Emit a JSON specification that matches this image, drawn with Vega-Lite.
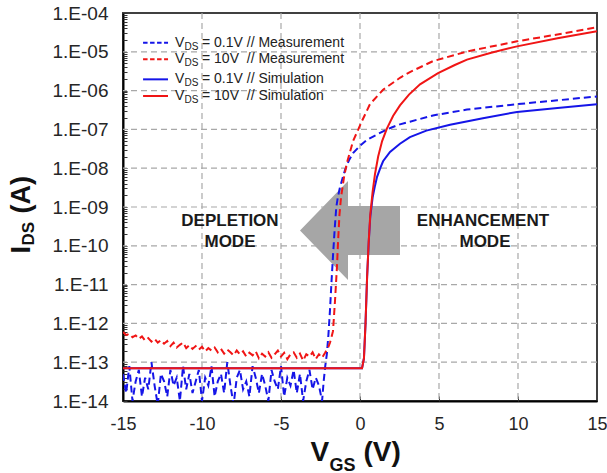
{
"$schema":"https://vega.github.io/schema/vega-lite/v6.json",
"width":474,"height":388,
"autosize":{"type":"none"},
"padding":{"left":123,"top":13,"right":10,"bottom":72},
"background":"white",
"config":{"font":"Liberation Sans","view":{"stroke":"#404040","strokeWidth":2}},
"datasets":{"curves":[
{"V":-15,"I":5.0e-14,"series":"meas01"},{"V":-14.8,"I":1.6e-14,"series":"meas01"},{"V":-14.6,"I":7.9e-14,"series":"meas01"},{"V":-14.4,"I":1.0e-14,"series":"meas01"},{"V":-14.2,"I":3.2e-14,"series":"meas01"},{"V":-14,"I":6.3e-14,"series":"meas01"},{"V":-13.8,"I":1.3e-14,"series":"meas01"},{"V":-13.6,"I":4.0e-14,"series":"meas01"},{"V":-13.4,"I":2.0e-14,"series":"meas01"},{"V":-13.2,"I":1.0e-13,"series":"meas01"},{"V":-13,"I":2.5e-14,"series":"meas01"},{"V":-12.8,"I":7.9e-15,"series":"meas01"},{"V":-12.6,"I":5.0e-14,"series":"meas01"},{"V":-12.4,"I":3.2e-14,"series":"meas01"},{"V":-12.2,"I":1.3e-14,"series":"meas01"},{"V":-12,"I":6.3e-14,"series":"meas01"},{"V":-11.8,"I":2.5e-14,"series":"meas01"},{"V":-11.6,"I":4.0e-14,"series":"meas01"},{"V":-11.4,"I":1.0e-14,"series":"meas01"},{"V":-11.2,"I":7.9e-14,"series":"meas01"},{"V":-11,"I":2.0e-14,"series":"meas01"},{"V":-10.8,"I":5.0e-14,"series":"meas01"},{"V":-10.6,"I":1.6e-14,"series":"meas01"},{"V":-10.4,"I":3.2e-14,"series":"meas01"},{"V":-10.2,"I":6.3e-14,"series":"meas01"},{"V":-10,"I":1.0e-14,"series":"meas01"},{"V":-9.8,"I":4.0e-14,"series":"meas01"},{"V":-9.6,"I":2.5e-14,"series":"meas01"},{"V":-9.4,"I":7.9e-14,"series":"meas01"},{"V":-9.2,"I":1.3e-14,"series":"meas01"},{"V":-9,"I":3.2e-14,"series":"meas01"},{"V":-8.8,"I":5.0e-14,"series":"meas01"},{"V":-8.6,"I":1.6e-14,"series":"meas01"},{"V":-8.4,"I":1.0e-13,"series":"meas01"},{"V":-8.2,"I":2.5e-14,"series":"meas01"},{"V":-8,"I":7.9e-15,"series":"meas01"},{"V":-7.8,"I":4.0e-14,"series":"meas01"},{"V":-7.6,"I":6.3e-14,"series":"meas01"},{"V":-7.4,"I":2.0e-14,"series":"meas01"},{"V":-7.2,"I":3.2e-14,"series":"meas01"},{"V":-7,"I":1.3e-14,"series":"meas01"},{"V":-6.8,"I":7.9e-14,"series":"meas01"},{"V":-6.6,"I":4.0e-14,"series":"meas01"},{"V":-6.4,"I":1.6e-14,"series":"meas01"},{"V":-6.2,"I":5.0e-14,"series":"meas01"},{"V":-6,"I":2.5e-14,"series":"meas01"},{"V":-5.8,"I":1.0e-14,"series":"meas01"},{"V":-5.6,"I":6.3e-14,"series":"meas01"},{"V":-5.4,"I":3.2e-14,"series":"meas01"},{"V":-5.2,"I":2.0e-14,"series":"meas01"},{"V":-5,"I":7.9e-14,"series":"meas01"},{"V":-4.8,"I":1.3e-14,"series":"meas01"},{"V":-4.6,"I":4.0e-14,"series":"meas01"},{"V":-4.4,"I":2.5e-14,"series":"meas01"},{"V":-4.2,"I":6.3e-14,"series":"meas01"},{"V":-4,"I":1.6e-14,"series":"meas01"},{"V":-3.8,"I":5.0e-14,"series":"meas01"},{"V":-3.6,"I":1.0e-14,"series":"meas01"},{"V":-3.4,"I":3.2e-14,"series":"meas01"},{"V":-3.2,"I":6.3e-14,"series":"meas01"},{"V":-3,"I":2.0e-14,"series":"meas01"},{"V":-2.8,"I":4.0e-14,"series":"meas01"},{"V":-2.6,"I":2.5e-14,"series":"meas01"},{"V":-2.4,"I":1.0e-14,"series":"meas01"},
{"V":-2.3,"I":3.2e-14,"series":"meas01"},{"V":-2.2,"I":7.9e-14,"series":"meas01"},{"V":-2.1,"I":1.6e-13,"series":"meas01"},{"V":-2.0,"I":5.0e-13,"series":"meas01"},{"V":-1.9,"I":2.2e-12,"series":"meas01"},{"V":-1.8,"I":1.26e-11,"series":"meas01"},{"V":-1.7,"I":6.3e-11,"series":"meas01"},{"V":-1.6,"I":2.8e-10,"series":"meas01"},{"V":-1.5,"I":1.0e-9,"series":"meas01"},{"V":-1.4,"I":1.8e-9,"series":"meas01"},{"V":-1.27,"I":3.2e-9,"series":"meas01"},{"V":-1.1,"I":5.6e-9,"series":"meas01"},{"V":-0.95,"I":8.9e-9,"series":"meas01"},{"V":-0.7,"I":1.6e-8,"series":"meas01"},{"V":-0.44,"I":2.45e-8,"series":"meas01"},{"V":0,"I":3.8e-8,"series":"meas01"},{"V":0.44,"I":5.4e-8,"series":"meas01"},{"V":1.0,"I":7.1e-8,"series":"meas01"},{"V":1.46,"I":8.9e-8,"series":"meas01"},{"V":2.0,"I":1.12e-7,"series":"meas01"},{"V":2.53,"I":1.35e-7,"series":"meas01"},{"V":3.16,"I":1.58e-7,"series":"meas01"},{"V":4.62,"I":2.29e-7,"series":"meas01"},{"V":6.77,"I":3.24e-7,"series":"meas01"},{"V":9.94,"I":4.47e-7,"series":"meas01"},{"V":12.5,"I":5.62e-7,"series":"meas01"},{"V":15,"I":7.08e-7,"series":"meas01"},
{"V":-15,"I":6.0e-13,"series":"meas10"},{"V":-14.8,"I":5.0e-13,"series":"meas10"},{"V":-14.6,"I":5.4e-13,"series":"meas10"},{"V":-14.4,"I":4.4e-13,"series":"meas10"},{"V":-14.2,"I":4.9e-13,"series":"meas10"},{"V":-14,"I":4.0e-13,"series":"meas10"},{"V":-13.8,"I":4.6e-13,"series":"meas10"},{"V":-13.6,"I":3.6e-13,"series":"meas10"},{"V":-13.4,"I":4.2e-13,"series":"meas10"},{"V":-13.2,"I":3.4e-13,"series":"meas10"},{"V":-13,"I":4.0e-13,"series":"meas10"},{"V":-12.8,"I":3.2e-13,"series":"meas10"},{"V":-12.6,"I":3.7e-13,"series":"meas10"},{"V":-12.4,"I":3.0e-13,"series":"meas10"},{"V":-12.2,"I":3.5e-13,"series":"meas10"},{"V":-12,"I":2.6e-13,"series":"meas10"},{"V":-11.8,"I":3.2e-13,"series":"meas10"},{"V":-11.6,"I":2.4e-13,"series":"meas10"},{"V":-11.4,"I":2.8e-13,"series":"meas10"},{"V":-11.2,"I":3.2e-13,"series":"meas10"},{"V":-11,"I":2.3e-13,"series":"meas10"},{"V":-10.8,"I":2.75e-13,"series":"meas10"},{"V":-10.6,"I":2.2e-13,"series":"meas10"},{"V":-10.4,"I":2.6e-13,"series":"meas10"},{"V":-10.2,"I":2.1e-13,"series":"meas10"},{"V":-10,"I":2.5e-13,"series":"meas10"},{"V":-9.8,"I":1.9e-13,"series":"meas10"},{"V":-9.6,"I":2.3e-13,"series":"meas10"},{"V":-9.4,"I":2.0e-13,"series":"meas10"},{"V":-9.2,"I":2.4e-13,"series":"meas10"},{"V":-9,"I":1.8e-13,"series":"meas10"},{"V":-8.8,"I":2.2e-13,"series":"meas10"},{"V":-8.6,"I":1.66e-13,"series":"meas10"},{"V":-8.4,"I":2.1e-13,"series":"meas10"},{"V":-8.2,"I":1.8e-13,"series":"meas10"},{"V":-8,"I":1.5e-13,"series":"meas10"},{"V":-7.8,"I":2.0e-13,"series":"meas10"},{"V":-7.6,"I":1.6e-13,"series":"meas10"},{"V":-7.4,"I":1.9e-13,"series":"meas10"},{"V":-7.2,"I":1.4e-13,"series":"meas10"},{"V":-7,"I":1.75e-13,"series":"meas10"},{"V":-6.8,"I":1.5e-13,"series":"meas10"},{"V":-6.6,"I":1.9e-13,"series":"meas10"},{"V":-6.4,"I":1.26e-13,"series":"meas10"},{"V":-6.2,"I":1.66e-13,"series":"meas10"},{"V":-6,"I":1.4e-13,"series":"meas10"},{"V":-5.8,"I":1.8e-13,"series":"meas10"},{"V":-5.6,"I":1.3e-13,"series":"meas10"},{"V":-5.4,"I":1.6e-13,"series":"meas10"},{"V":-5.2,"I":2.0e-13,"series":"meas10"},{"V":-5,"I":1.4e-13,"series":"meas10"},{"V":-4.8,"I":1.75e-13,"series":"meas10"},{"V":-4.6,"I":1.2e-13,"series":"meas10"},{"V":-4.4,"I":1.6e-13,"series":"meas10"},{"V":-4.2,"I":1.8e-13,"series":"meas10"},{"V":-4,"I":1.3e-13,"series":"meas10"},{"V":-3.8,"I":1.66e-13,"series":"meas10"},{"V":-3.6,"I":1.1e-13,"series":"meas10"},{"V":-3.4,"I":1.6e-13,"series":"meas10"},{"V":-3.2,"I":1.4e-13,"series":"meas10"},{"V":-3,"I":1.8e-13,"series":"meas10"},{"V":-2.8,"I":1.2e-13,"series":"meas10"},{"V":-2.6,"I":1.6e-13,"series":"meas10"},{"V":-2.4,"I":1.3e-13,"series":"meas10"},
{"V":-2.2,"I":1.78e-13,"series":"meas10"},{"V":-2.0,"I":2.5e-13,"series":"meas10"},{"V":-1.9,"I":3.2e-13,"series":"meas10"},{"V":-1.8,"I":4.5e-13,"series":"meas10"},{"V":-1.71,"I":6.3e-13,"series":"meas10"},{"V":-1.58,"I":3.9e-12,"series":"meas10"},{"V":-1.46,"I":2.8e-11,"series":"meas10"},{"V":-1.39,"I":1.26e-10,"series":"meas10"},{"V":-1.3,"I":6.3e-10,"series":"meas10"},{"V":-1.2,"I":1.78e-9,"series":"meas10"},{"V":-1.0,"I":6.3e-9,"series":"meas10"},{"V":-0.82,"I":1.41e-8,"series":"meas10"},{"V":-0.44,"I":5.0e-8,"series":"meas10"},{"V":0.13,"I":1.66e-7,"series":"meas10"},{"V":0.63,"I":4.47e-7,"series":"meas10"},{"V":1.46,"I":1.05e-6,"series":"meas10"},{"V":2.53,"I":2.14e-6,"series":"meas10"},{"V":3.16,"I":3.0e-6,"series":"meas10"},{"V":4.62,"I":5.75e-6,"series":"meas10"},{"V":6.77,"I":1.02e-5,"series":"meas10"},{"V":9.94,"I":1.86e-5,"series":"meas10"},{"V":12.5,"I":2.8e-5,"series":"meas10"},{"V":15,"I":4.27e-5,"series":"meas10"},
{"V":-15,"I":7.0e-14,"series":"sim01"},{"V":0.13,"I":7.0e-14,"series":"sim01"},{"V":0.25,"I":1.26e-13,"series":"sim01"},{"V":0.35,"I":1.0e-12,"series":"sim01"},{"V":0.45,"I":1.58e-11,"series":"sim01"},{"V":0.55,"I":1.2e-10,"series":"sim01"},{"V":0.65,"I":5.6e-10,"series":"sim01"},{"V":0.8,"I":1.78e-9,"series":"sim01"},{"V":0.95,"I":3.55e-9,"series":"sim01"},{"V":1.08,"I":6.0e-9,"series":"sim01"},{"V":1.3,"I":1.05e-8,"series":"sim01"},{"V":1.46,"I":1.51e-8,"series":"sim01"},{"V":1.9,"I":2.63e-8,"series":"sim01"},{"V":2.53,"I":4.27e-8,"series":"sim01"},{"V":3.16,"I":6.3e-8,"series":"sim01"},{"V":4.2,"I":9.3e-8,"series":"sim01"},{"V":5.7,"I":1.32e-7,"series":"sim01"},{"V":7.78,"I":1.95e-7,"series":"sim01"},{"V":9.94,"I":2.82e-7,"series":"sim01"},{"V":12.5,"I":3.55e-7,"series":"sim01"},{"V":15,"I":4.47e-7,"series":"sim01"},
{"V":-15,"I":7.0e-14,"series":"sim10"},{"V":0.13,"I":7.0e-14,"series":"sim10"},{"V":0.25,"I":1.26e-13,"series":"sim10"},{"V":0.35,"I":1.0e-12,"series":"sim10"},{"V":0.45,"I":1.58e-11,"series":"sim10"},{"V":0.55,"I":1.26e-10,"series":"sim10"},{"V":0.65,"I":6.3e-10,"series":"sim10"},{"V":0.8,"I":2.5e-9,"series":"sim10"},{"V":0.95,"I":7.1e-9,"series":"sim10"},{"V":1.15,"I":2.0e-8,"series":"sim10"},{"V":1.4,"I":5.0e-8,"series":"sim10"},{"V":1.7,"I":1.05e-7,"series":"sim10"},{"V":2.1,"I":2.24e-7,"series":"sim10"},{"V":2.53,"I":4.17e-7,"series":"sim10"},{"V":3.1,"I":7.9e-7,"series":"sim10"},{"V":3.8,"I":1.45e-6,"series":"sim10"},{"V":4.94,"I":2.82e-6,"series":"sim10"},{"V":6.0,"I":4.57e-6,"series":"sim10"},{"V":6.77,"I":6.3e-6,"series":"sim10"},{"V":8.3,"I":9.5e-6,"series":"sim10"},{"V":9.94,"I":1.38e-5,"series":"sim10"},{"V":12.5,"I":2.24e-5,"series":"sim10"},{"V":15,"I":3.39e-5,"series":"sim10"}
]},
"resolve":{"axis":{"x":"independent","y":"independent"}},
"layer":[
{"data":{"values":[{}]},"mark":{"type":"rule","color":"#a8a8a8","strokeWidth":1.2,"strokeDash":[6,4]},"encoding":{"x":{"datum":-10,"type":"quantitative","axis":null}}},
{"data":{"values":[{}]},"mark":{"type":"rule","color":"#a8a8a8","strokeWidth":1.2,"strokeDash":[6,4]},"encoding":{"x":{"datum":-5,"type":"quantitative","axis":null}}},
{"data":{"values":[{}]},"mark":{"type":"rule","color":"#a8a8a8","strokeWidth":1.2,"strokeDash":[6,4]},"encoding":{"x":{"datum":0,"type":"quantitative","axis":null}}},
{"data":{"values":[{}]},"mark":{"type":"rule","color":"#a8a8a8","strokeWidth":1.2,"strokeDash":[6,4]},"encoding":{"x":{"datum":5,"type":"quantitative","axis":null}}},
{"data":{"values":[{}]},"mark":{"type":"rule","color":"#a8a8a8","strokeWidth":1.2,"strokeDash":[6,4]},"encoding":{"x":{"datum":10,"type":"quantitative","axis":null}}},
{"data":{"values":[{}]},"mark":{"type":"rule","color":"#a8a8a8","strokeWidth":1.2,"strokeDash":[6,4]},"encoding":{"y":{"datum":1e-13,"type":"quantitative","axis":null}}},
{"data":{"values":[{}]},"mark":{"type":"rule","color":"#a8a8a8","strokeWidth":1.2,"strokeDash":[6,4]},"encoding":{"y":{"datum":1e-12,"type":"quantitative","axis":null}}},
{"data":{"values":[{}]},"mark":{"type":"rule","color":"#a8a8a8","strokeWidth":1.2,"strokeDash":[6,4]},"encoding":{"y":{"datum":1e-11,"type":"quantitative","axis":null}}},
{"data":{"values":[{}]},"mark":{"type":"rule","color":"#a8a8a8","strokeWidth":1.2,"strokeDash":[6,4]},"encoding":{"y":{"datum":1e-10,"type":"quantitative","axis":null}}},
{"data":{"values":[{}]},"mark":{"type":"rule","color":"#a8a8a8","strokeWidth":1.2,"strokeDash":[6,4]},"encoding":{"y":{"datum":1e-9,"type":"quantitative","axis":null}}},
{"data":{"values":[{}]},"mark":{"type":"rule","color":"#a8a8a8","strokeWidth":1.2,"strokeDash":[6,4]},"encoding":{"y":{"datum":1e-8,"type":"quantitative","axis":null}}},
{"data":{"values":[{}]},"mark":{"type":"rule","color":"#a8a8a8","strokeWidth":1.2,"strokeDash":[6,4]},"encoding":{"y":{"datum":1e-7,"type":"quantitative","axis":null}}},
{"data":{"values":[{}]},"mark":{"type":"rule","color":"#a8a8a8","strokeWidth":1.2,"strokeDash":[6,4]},"encoding":{"y":{"datum":1e-6,"type":"quantitative","axis":null}}},
{"data":{"values":[{}]},"mark":{"type":"rule","color":"#a8a8a8","strokeWidth":1.2,"strokeDash":[6,4]},"encoding":{"y":{"datum":1e-5,"type":"quantitative","axis":null}}},
{"data":{"values":[{}]},"mark":{"type":"point","shape":"M-1,0L-0.04,-0.99L-0.04,-0.49L1,-0.49L1,0.49L-0.04,0.49L-0.04,0.99Z","filled":true,"size":10000,"color":"#a6a6a6","opacity":1,"strokeWidth":0},
 "encoding":{"x":{"datum":-0.633,"type":"quantitative","axis":null},"y":{"datum":2.48e-10,"type":"quantitative","axis":null}}},
{"data":{"name":"curves"},"transform":[{"filter":"datum.series === 'meas01'"}],
 "mark":{"type":"line","color":"#1515e8","strokeWidth":2,"strokeDash":[7,4],"clip":true},
 "encoding":{
  "x":{"field":"V","type":"quantitative","scale":{"domain":[-15,15],"nice":false,"zero":false},
   "axis":{"orient":"bottom","values":[-15,-10,-5,0,5,10,15],"labelExpr":"'' + datum.value","labelFlush":false,"labelOverlap":false,"labelFontSize":18,"labelColor":"#262626","labelPadding":14,"ticks":false,"domainColor":"#000","domainWidth":2,"grid":false,
    "title":"V","titleFontSize":28,"titleFontWeight":"bold","titleColor":"#111","titleX":187,"titleY":59,"titleAlign":"left","titleBaseline":"alphabetic"}},
  "y":{"field":"I","type":"quantitative","scale":{"type":"log","domain":[1e-14,1e-4],"nice":false},
   "axis":{"orient":"left","values":[1e-14,1e-13,1e-12,1e-11,1e-10,1e-9,1e-8,1e-7,1e-6,1e-5,1e-4],"labelExpr":"'1.E-' + (round(-log(datum.value)/LN10) < 10 ? '0' : '') + round(-log(datum.value)/LN10)","labelFlush":false,"labelOverlap":false,"labelFontSize":19,"labelColor":"#262626","labelPadding":15,"ticks":false,"domainColor":"#000","domainWidth":2,"grid":false,
    "title":"I","titleFontSize":27,"titleFontWeight":"bold","titleColor":"#111","titleAngle":-90,"titleX":-94,"titleY":240,"titleAlign":"left","titleBaseline":"alphabetic"}}}},
{"data":{"name":"curves"},"transform":[{"filter":"datum.series === 'meas10'"}],
 "mark":{"type":"line","color":"#f01515","strokeWidth":2,"strokeDash":[7,4],"clip":true},
 "encoding":{
  "x":{"field":"V","type":"quantitative","axis":{"orient":"bottom","labels":false,"ticks":false,"domain":false,"grid":false,"title":"GS","titleFontSize":18,"titleFontWeight":"bold","titleColor":"#111","titleX":206,"titleY":69,"titleAlign":"left","titleBaseline":"alphabetic"}},
  "y":{"field":"I","type":"quantitative","axis":{"orient":"left","labels":false,"ticks":false,"domain":false,"grid":false,"title":"DS","titleFontSize":17,"titleFontWeight":"bold","titleColor":"#111","titleAngle":-90,"titleX":-90,"titleY":232,"titleAlign":"left","titleBaseline":"alphabetic"}}}},
{"data":{"name":"curves"},"transform":[{"filter":"datum.series === 'sim01'"}],
 "mark":{"type":"line","color":"#1515e8","strokeWidth":2,"clip":true},
 "encoding":{
  "x":{"field":"V","type":"quantitative","axis":{"orient":"bottom","labels":false,"domain":false,"grid":false,"ticks":true,"tickSize":-5,"tickColor":"#333","values":[-10,-5,0,5,10],"title":"(V)","titleFontSize":28,"titleFontWeight":"bold","titleColor":"#111","titleX":240,"titleY":59,"titleAlign":"left","titleBaseline":"alphabetic"}},
  "y":{"field":"I","type":"quantitative","axis":{"orient":"left","labels":false,"ticks":false,"domain":false,"grid":false,"title":"(A)","titleFontSize":27,"titleFontWeight":"bold","titleColor":"#111","titleAngle":-90,"titleX":-94,"titleY":200,"titleAlign":"left","titleBaseline":"alphabetic"}}}},
{"data":{"name":"curves"},"transform":[{"filter":"datum.series === 'sim10'"}],
 "mark":{"type":"line","color":"#f01515","strokeWidth":2,"clip":true},
 "encoding":{
  "x":{"field":"V","type":"quantitative","axis":null},
  "y":{"field":"I","type":"quantitative","axis":{"orient":"left","labels":false,"domain":false,"grid":false,"ticks":true,"tickSize":-4,"tickColor":"#333","tickWidth":1,"title":null,
   "values":[1e-14,2e-14,3e-14,4e-14,5e-14,6e-14,7e-14,8e-14,9e-14,1e-13,2e-13,3e-13,4e-13,5e-13,6e-13,7e-13,8e-13,9e-13,1e-12,2e-12,3e-12,4e-12,5e-12,6e-12,7e-12,8e-12,9e-12,1e-11,2e-11,3e-11,4e-11,5e-11,6e-11,7e-11,8e-11,9e-11,1e-10,2e-10,3e-10,4e-10,5e-10,6e-10,7e-10,8e-10,9e-10,1e-9,2e-9,3e-9,4e-9,5e-9,6e-9,7e-9,8e-9,9e-9,1e-8,2e-8,3e-8,4e-8,5e-8,6e-8,7e-8,8e-8,9e-8,1e-7,2e-7,3e-7,4e-7,5e-7,6e-7,7e-7,8e-7,9e-7,1e-6,2e-6,3e-6,4e-6,5e-6,6e-6,7e-6,8e-6,9e-6,1e-5,2e-5,3e-5,4e-5,5e-5,6e-5,7e-5,8e-5,9e-5,1e-4]}}}},
{"data":{"values":[{}]},"mark":{"type":"text","text":"DEPLETION","fontSize":17,"fontWeight":"bold","align":"center","baseline":"middle","color":"#1a1a1a"},
 "encoding":{"x":{"datum":-8.23,"type":"quantitative","axis":null},"y":{"datum":4.37e-10,"type":"quantitative","axis":null}}},
{"data":{"values":[{}]},"mark":{"type":"text","text":"MODE","fontSize":17,"fontWeight":"bold","align":"center","baseline":"middle","color":"#1a1a1a"},
 "encoding":{"x":{"datum":-8.23,"type":"quantitative","axis":null},"y":{"datum":1.26e-10,"type":"quantitative","axis":null}}},
{"data":{"values":[{}]},"mark":{"type":"text","text":"ENHANCEMENT","fontSize":17,"fontWeight":"bold","align":"center","baseline":"middle","color":"#1a1a1a"},
 "encoding":{"x":{"datum":7.78,"type":"quantitative","axis":null},"y":{"datum":4.37e-10,"type":"quantitative","axis":null}}},
{"data":{"values":[{}]},"mark":{"type":"text","text":"MODE","fontSize":17,"fontWeight":"bold","align":"center","baseline":"middle","color":"#1a1a1a"},
 "encoding":{"x":{"datum":7.91,"type":"quantitative","axis":null},"y":{"datum":1.26e-10,"type":"quantitative","axis":null}}},
{"data":{"values":[{}]},"mark":{"type":"rule","color":"#1515e8","strokeWidth":2,"strokeDash":[4.5,2.5]},
 "encoding":{"x":{"datum":-13.73,"type":"quantitative","axis":null},"x2":{"datum":-12.15},"y":{"datum":1.72e-5,"type":"quantitative","axis":null}}},
{"data":{"values":[{}]},"mark":{"type":"rule","color":"#f01515","strokeWidth":2,"strokeDash":[4.5,2.5]},
 "encoding":{"x":{"datum":-13.73,"type":"quantitative","axis":null},"x2":{"datum":-12.15},"y":{"datum":6.41e-6,"type":"quantitative","axis":null}}},
{"data":{"values":[{}]},"mark":{"type":"rule","color":"#1515e8","strokeWidth":2},
 "encoding":{"x":{"datum":-13.73,"type":"quantitative","axis":null},"x2":{"datum":-12.15},"y":{"datum":1.95e-6,"type":"quantitative","axis":null}}},
{"data":{"values":[{}]},"mark":{"type":"rule","color":"#f01515","strokeWidth":2},
 "encoding":{"x":{"datum":-13.73,"type":"quantitative","axis":null},"x2":{"datum":-12.15},"y":{"datum":7.26e-7,"type":"quantitative","axis":null}}},
{"data":{"values":[{}]},"mark":{"type":"text","text":"V","fontSize":14,"align":"left","baseline":"middle","color":"#222"},
 "encoding":{"x":{"datum":-11.71,"type":"quantitative","axis":null},"y":{"datum":1.72e-5,"type":"quantitative","axis":null}}},
{"data":{"values":[{}]},"mark":{"type":"text","text":"DS","fontSize":10,"align":"left","baseline":"middle","dy":4,"color":"#222"},
 "encoding":{"x":{"datum":-11.11,"type":"quantitative","axis":null},"y":{"datum":1.72e-5,"type":"quantitative","axis":null}}},
{"data":{"values":[{}]},"mark":{"type":"text","text":"= 0.1V // Measurement","fontSize":14,"align":"left","baseline":"middle","color":"#222"},
 "encoding":{"x":{"datum":-10.0,"type":"quantitative","axis":null},"y":{"datum":1.72e-5,"type":"quantitative","axis":null}}},
{"data":{"values":[{}]},"mark":{"type":"text","text":"V","fontSize":14,"align":"left","baseline":"middle","color":"#222"},
 "encoding":{"x":{"datum":-11.71,"type":"quantitative","axis":null},"y":{"datum":6.41e-6,"type":"quantitative","axis":null}}},
{"data":{"values":[{}]},"mark":{"type":"text","text":"DS","fontSize":10,"align":"left","baseline":"middle","dy":4,"color":"#222"},
 "encoding":{"x":{"datum":-11.11,"type":"quantitative","axis":null},"y":{"datum":6.41e-6,"type":"quantitative","axis":null}}},
{"data":{"values":[{}]},"mark":{"type":"text","text":"= 10V \u00a0// Measurement","fontSize":14,"align":"left","baseline":"middle","color":"#222"},
 "encoding":{"x":{"datum":-10.0,"type":"quantitative","axis":null},"y":{"datum":6.41e-6,"type":"quantitative","axis":null}}},
{"data":{"values":[{}]},"mark":{"type":"text","text":"V","fontSize":14,"align":"left","baseline":"middle","color":"#222"},
 "encoding":{"x":{"datum":-11.71,"type":"quantitative","axis":null},"y":{"datum":1.95e-6,"type":"quantitative","axis":null}}},
{"data":{"values":[{}]},"mark":{"type":"text","text":"DS","fontSize":10,"align":"left","baseline":"middle","dy":4,"color":"#222"},
 "encoding":{"x":{"datum":-11.11,"type":"quantitative","axis":null},"y":{"datum":1.95e-6,"type":"quantitative","axis":null}}},
{"data":{"values":[{}]},"mark":{"type":"text","text":"= 0.1V // Simulation","fontSize":14,"align":"left","baseline":"middle","color":"#222"},
 "encoding":{"x":{"datum":-10.0,"type":"quantitative","axis":null},"y":{"datum":1.95e-6,"type":"quantitative","axis":null}}},
{"data":{"values":[{}]},"mark":{"type":"text","text":"V","fontSize":14,"align":"left","baseline":"middle","color":"#222"},
 "encoding":{"x":{"datum":-11.71,"type":"quantitative","axis":null},"y":{"datum":7.26e-7,"type":"quantitative","axis":null}}},
{"data":{"values":[{}]},"mark":{"type":"text","text":"DS","fontSize":10,"align":"left","baseline":"middle","dy":4,"color":"#222"},
 "encoding":{"x":{"datum":-11.11,"type":"quantitative","axis":null},"y":{"datum":7.26e-7,"type":"quantitative","axis":null}}},
{"data":{"values":[{}]},"mark":{"type":"text","text":"= 10V \u00a0// Simulation","fontSize":14,"align":"left","baseline":"middle","color":"#222"},
 "encoding":{"x":{"datum":-10.0,"type":"quantitative","axis":null},"y":{"datum":7.26e-7,"type":"quantitative","axis":null}}}
]
}
